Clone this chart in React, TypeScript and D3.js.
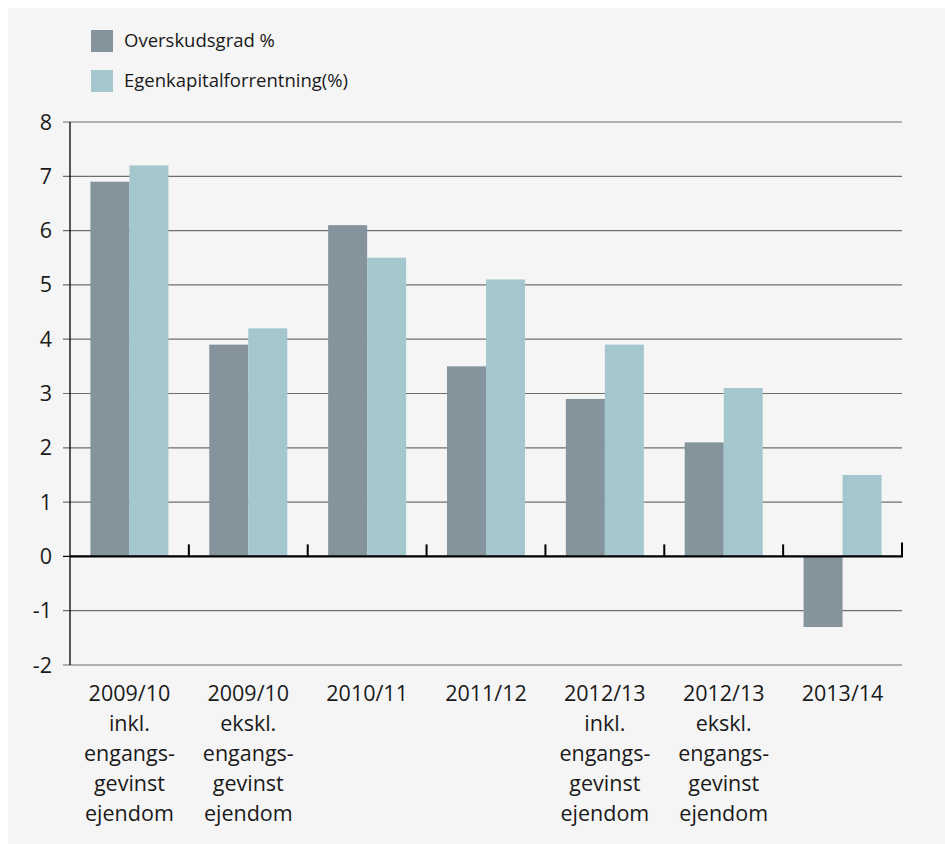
import React from "react";
import * as d3 from "d3";

const categories: string[][] = [
  ["2009/10", "inkl.", "engangs-", "gevinst", "ejendom"],
  ["2009/10", "ekskl.", "engangs-", "gevinst", "ejendom"],
  ["2010/11"],
  ["2011/12"],
  ["2012/13", "inkl.", "engangs-", "gevinst", "ejendom"],
  ["2012/13", "ekskl.", "engangs-", "gevinst", "ejendom"],
  ["2013/14"],
];
const overskudsgrad = [6.9, 3.9, 6.1, 3.5, 2.9, 2.1, -1.3];
const egenkapital = [7.2, 4.2, 5.5, 5.1, 3.9, 3.1, 1.5];
const seriesNames = ["Overskudsgrad %", "Egenkapitalforrentning(%)"];
const yTicks = [-2, -1, 0, 1, 2, 3, 4, 5, 6, 7, 8];

const COLORS = ["#84939c", "#a3c7cc"];
const FONT = "'Open Sans', sans-serif";

export default function App() {
  const left = 70, right = 902, top = 122, bottom = 665;
  const ids = categories.map((_, i) => String(i));
  const x = d3.scaleBand<string>().domain(ids).range([left, right]).paddingInner(0).paddingOuter(0);
  const y = d3.scaleLinear().domain([-2, 8]).range([bottom, top]);
  const inner = d3.scaleBand<string>().domain(["0", "1"]).range([0, x.bandwidth()]).paddingInner(0).paddingOuter(0.524);
  const series = [overskudsgrad, egenkapital];
  const y0 = y(0);

  return (
    <svg width={945} height={844} style={{ position: "fixed", left: 0, top: 0 }}>
      <rect x={8} y={8} width={937} height={836} fill="#f5f5f5" />
      {/* legend */}
      {seriesNames.map((n, i) => (
        <g key={n}>
          <rect x={91} y={30 + i * 40} width={22} height={22} fill={COLORS[i]} />
          <text x={124} y={41 + i * 40} dy="0.35em" fontFamily={FONT} fontSize={18.5} fill="#1a1a1a">{n}</text>
        </g>
      ))}
      {/* gridlines */}
      {yTicks.map((t) => (
        <g key={t}>
          {t !== 0 && (
            <line x1={63} x2={right} y1={y(t)} y2={y(t)} stroke="#6e6e6e" strokeWidth={1.2} />
          )}
          {t === 0 && <line x1={63} x2={left} y1={y(t)} y2={y(t)} stroke="#000" strokeWidth={1.2} />}
          <text x={52} y={y(t)} dy="0.35em" textAnchor="end" fontFamily={FONT} fontSize={21.5} fill="#1a1a1a">{t}</text>
        </g>
      ))}
      {/* bars */}
      {series.map((vals, s) =>
        vals.map((v, i) => (
          <rect
            key={`${s}-${i}`}
            x={(x(ids[i]) as number) + (inner(String(s)) as number)}
            width={inner.bandwidth()}
            y={Math.min(y(v), y0)}
            height={Math.abs(y(v) - y0)}
            fill={COLORS[s]}
          />
        ))
      )}
      {/* y axis */}
      <line x1={left} x2={left} y1={top} y2={bottom} stroke="#000" strokeWidth={1.3} />
      {/* zero axis */}
      <line x1={left} x2={right + 1} y1={y0} y2={y0} stroke="#000" strokeWidth={2.2} />
      {ids.map((id, i) => {
        const xe = (x(id) as number) + x.bandwidth();
        return <line key={id} x1={xe} x2={xe} y1={y0 - (i === ids.length - 1 ? 14 : 12)} y2={y0} stroke="#000" strokeWidth={2} />;
      })}
      {/* x labels */}
      {categories.map((lines, i) => {
        const cx = (x(ids[i]) as number) + x.bandwidth() / 2;
        return (
          <text key={i} textAnchor="middle" fontFamily={FONT} fontSize={21.5} fill="#1a1a1a">
            {lines.map((l, j) => (
              <tspan key={j} x={cx} y={693 + j * 30} dy="0.35em">{l}</tspan>
            ))}
          </text>
        );
      })}
    </svg>
  );
}
